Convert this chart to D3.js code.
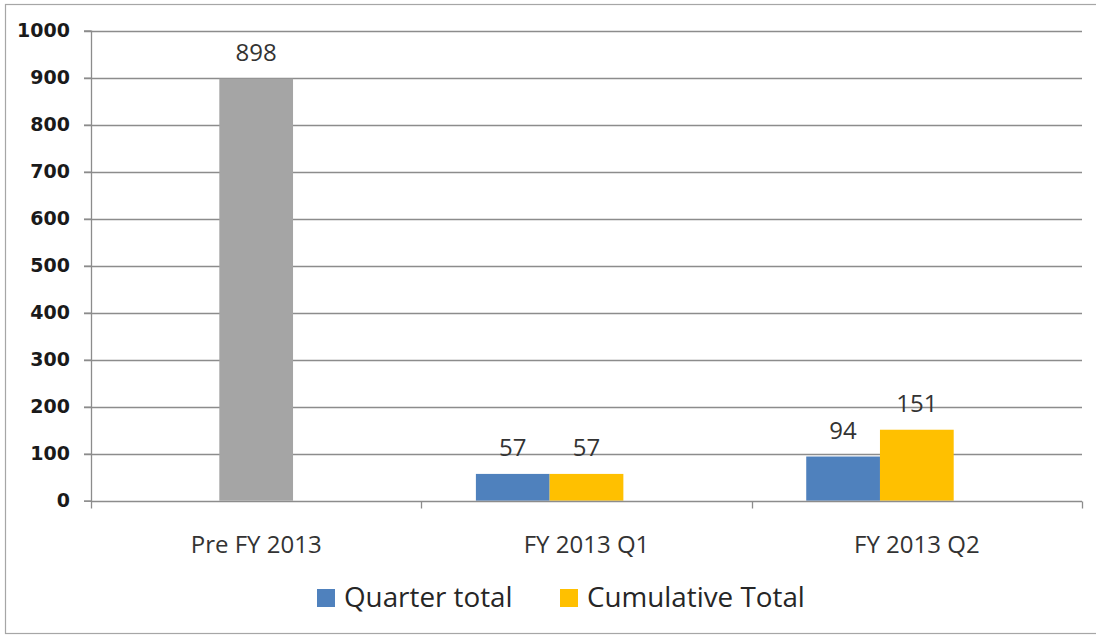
<!DOCTYPE html>
<html>
<head>
<meta charset="utf-8">
<script src="https://cdn.jsdelivr.net/npm/d3@7/dist/d3.min.js"></script>
<style>
  html, body { margin: 0; padding: 0; background: #fff; }
  svg { display: block; }
</style>
</head>
<body>
<svg id="chart" width="1096" height="635"></svg>
<script>
// ---- data ----
const categories = ["Pre FY 2013", "FY 2013 Q1", "FY 2013 Q2"];
const seriesNames = ["Quarter total", "Cumulative Total"];
const quarterTotal = [null, 57, 94];
const cumulativeTotal = [898, 57, 151];
const yTicks = [0, 100, 200, 300, 400, 500, 600, 700, 800, 900, 1000];
const seriesColors = ["#4F81BD", "#FFC000"];
const preColor = "#A5A5A5";

// ---- layout ----
const svg = d3.select("#chart");
const plot = { left: 91, right: 1082, top: 30.7, bottom: 500.7 };

svg.append("rect").attr("x", 5.5).attr("y", 4.5).attr("width", 1200).attr("height", 629)
  .attr("fill", "#fff").attr("stroke", "#a6a6a6").attr("stroke-width", 1.2);

const y = d3.scaleLinear().domain([0, 1000]).range([plot.bottom, plot.top]);
const x0 = d3.scaleBand().domain(categories).range([plot.left, plot.right]).padding(0);
const slots = ["Quarter total", "Cumulative Total", "spare"];
const x1 = d3.scaleBand().domain(slots).range([0, x0.bandwidth()]).paddingInner(0).paddingOuter(0.74);

// gridlines
svg.append("g").selectAll("line").data(yTicks.filter(d => d > 0)).join("line")
  .attr("x1", plot.left - 7).attr("x2", plot.right)
  .attr("y1", d => Math.round(y(d)) + 0.5).attr("y2", d => Math.round(y(d)) + 0.5)
  .attr("stroke", "#8c8c8c").attr("stroke-width", 1.3);

// y axis
const yAxis = d3.axisLeft(y).tickValues(yTicks).tickSize(7).tickPadding(14).tickFormat(d3.format("d"));
const gy = svg.append("g").attr("transform", `translate(${plot.left},0)`).call(yAxis);
gy.select(".domain").attr("stroke", "#8c8c8c").attr("stroke-width", 1.3);
gy.selectAll(".tick line").attr("stroke", "#8c8c8c").attr("stroke-width", 1.3);
gy.selectAll(".tick text").attr("font-family", "DejaVu Sans").attr("font-weight", "bold")
  .attr("font-size", 19).attr("fill", "#1a1a1a");

// bars
const bars = [];
categories.forEach((c, i) => {
  if (quarterTotal[i] != null) bars.push({ cat: c, slot: seriesNames[0], v: quarterTotal[i], color: seriesColors[0] });
  if (cumulativeTotal[i] != null) bars.push({ cat: c, slot: seriesNames[1], v: cumulativeTotal[i], color: i === 0 ? preColor : seriesColors[1] });
});
svg.append("g").selectAll("rect").data(bars).join("rect")
  .attr("x", d => x0(d.cat) + x1(d.slot))
  .attr("width", x1.bandwidth())
  .attr("y", d => y(d.v))
  .attr("height", d => y(0) - y(d.v))
  .attr("fill", d => d.color);

// x axis
const xAxis = d3.axisBottom(x0).tickSize(0).tickPadding(34);
const gx = svg.append("g").attr("transform", `translate(0,${Math.round(plot.bottom) + 0.5})`).call(xAxis);
gx.select(".domain").attr("stroke", "#8c8c8c").attr("stroke-width", 1.3).attr("d", `M${plot.left},0H${plot.right}`);
gx.selectAll(".tick text").attr("font-family", "Open Sans").attr("font-size", 24).attr("fill", "#333");
// category boundary ticks
const bounds = categories.map(c => x0(c)).concat([plot.right]);
gx.append("g").selectAll("line").data(bounds).join("line")
  .attr("x1", d => Math.round(d) + 0.5).attr("x2", d => Math.round(d) + 0.5)
  .attr("y1", 0).attr("y2", 7).attr("stroke", "#8c8c8c").attr("stroke-width", 1.3);

// data labels
svg.append("g").selectAll("text").data(bars).join("text")
  .attr("x", d => x0(d.cat) + x1(d.slot) + x1.bandwidth() / 2)
  .attr("y", d => y(d.v) - 18)
  .attr("text-anchor", "middle")
  .attr("font-family", "Open Sans").attr("font-size", 24).attr("fill", "#333")
  .text(d => d.v);

// legend
const legend = svg.append("g");
const legendItems = [
  { name: seriesNames[0], color: seriesColors[0], x: 317 },
  { name: seriesNames[1], color: seriesColors[1], x: 560 }
];
const li = legend.selectAll("g").data(legendItems).join("g")
  .attr("transform", d => `translate(${d.x},0)`);
li.append("rect").attr("x", 0).attr("y", 589).attr("width", 18).attr("height", 18).attr("fill", d => d.color);
li.append("text").attr("x", 27).attr("y", 607)
  .attr("font-family", "Open Sans").attr("font-size", 27.8).attr("fill", "#262626")
  .text(d => d.name);
</script>
</body>
</html>
